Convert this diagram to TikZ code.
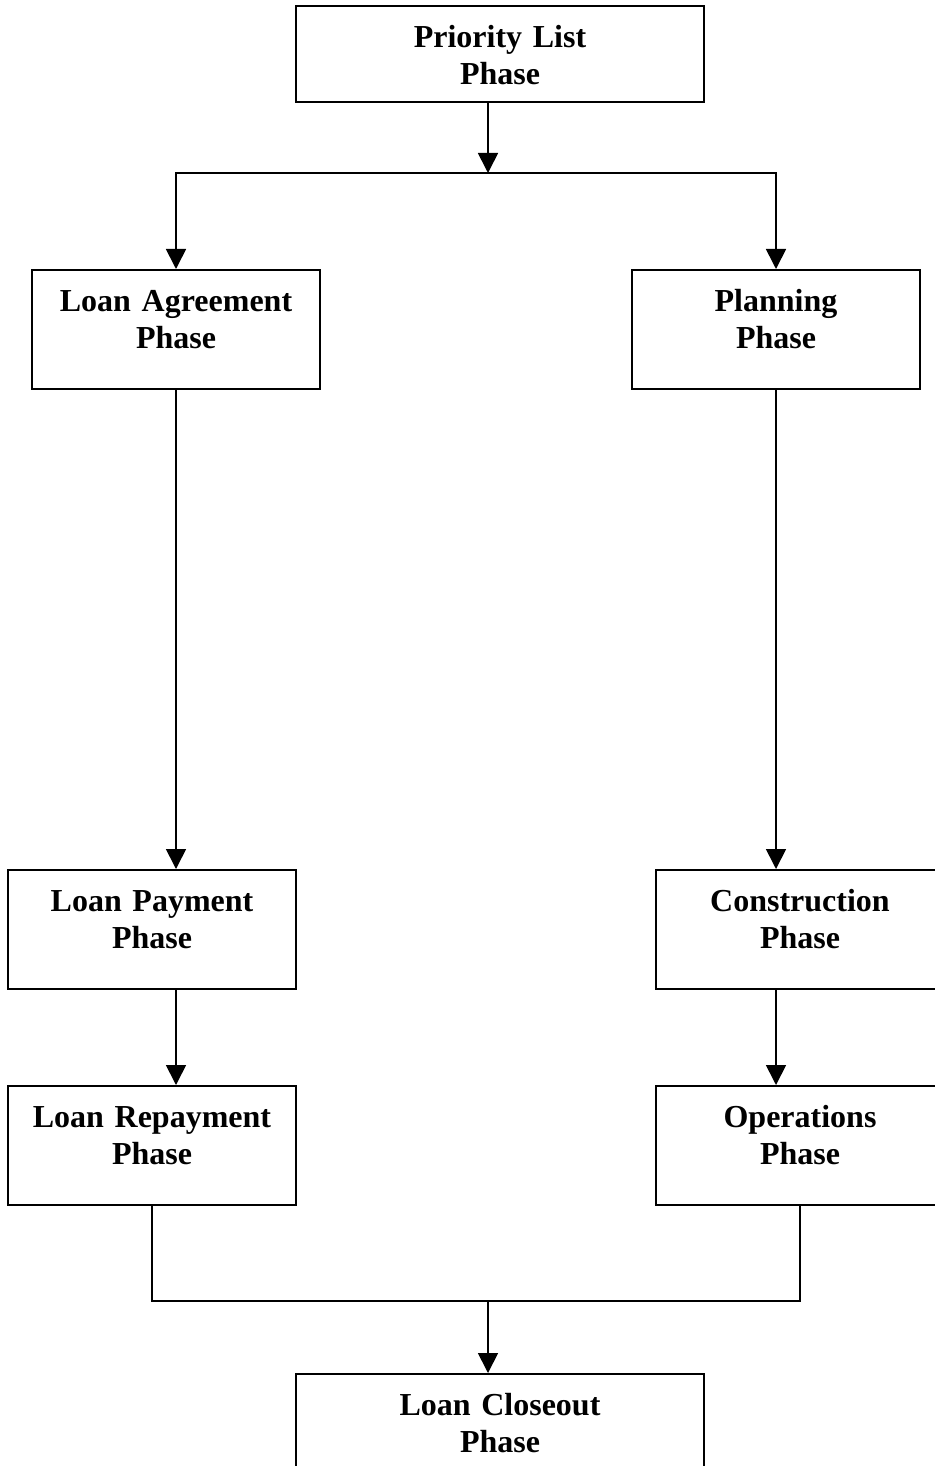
\documentclass[tikz,border=0pt]{standalone}
\usepackage{fontspec}
\setmainfont{Liberation Serif}
\usetikzlibrary{arrows.meta,positioning}

\begin{document}
\begin{tikzpicture}[x=0.5pt,y=-0.5pt,line width=0.85pt,
	phase/.style={draw,rectangle,anchor=north,align=center,text width=144pt,inner xsep=0pt,inner ysep=0pt,text height=21pt,text depth=38.5pt,font=\fontsize{16}{18.4}\selectfont\bfseries},
	wide/.style={text width=204pt,text depth=27pt},
	flow/.style={-{Triangle[width=10pt,length=10pt]}}]
	\useasboundingbox (0,0) rectangle (935,1466);
	\clip (0,0) rectangle (935,1466);
	\node[phase,wide]	(prio)	at (500,5) {Priority List\\Phase};
	\node[phase]	(agree)	at (176,269) {Loan Agreement\\Phase};
	\node[phase]	(plan)	at (776,269) {Planning\\Phase};
	\node[phase]	(pay)	at (152,869) {Loan Payment\\Phase};
	\node[phase]	(constr)	at (800,869) {Construction\\Phase};
	\node[phase]	(repay)	at (152,1085) {Loan Repayment\\Phase};
	\node[phase]	(oper)	at (800,1085) {Operations\\Phase};
	\node[phase,wide]	(close)	at (500,1373) {Loan Closeout\\Phase};
	\coordinate (split) at (488,173);
	\coordinate (merge) at (488,1301);
	\draw[flow] ([xshift=-6pt]prio.south) -- (split);
	\draw[flow] (split) -| (agree.north);
	\draw[flow] (split) -| (plan.north);
	\draw[flow] (agree.south) -- (agree.south |- pay.north);
	\draw[flow] (plan.south) -- (plan.south |- constr.north);
	\draw[flow] (agree.south |- pay.south) -- (agree.south |- repay.north);
	\draw[flow] (plan.south |- constr.south) -- (plan.south |- oper.north);
	\draw (repay.south) |- (merge) -| (oper.south);
	\draw[flow] (merge) -- (merge |- close.north);
\end{tikzpicture}
\end{document}
